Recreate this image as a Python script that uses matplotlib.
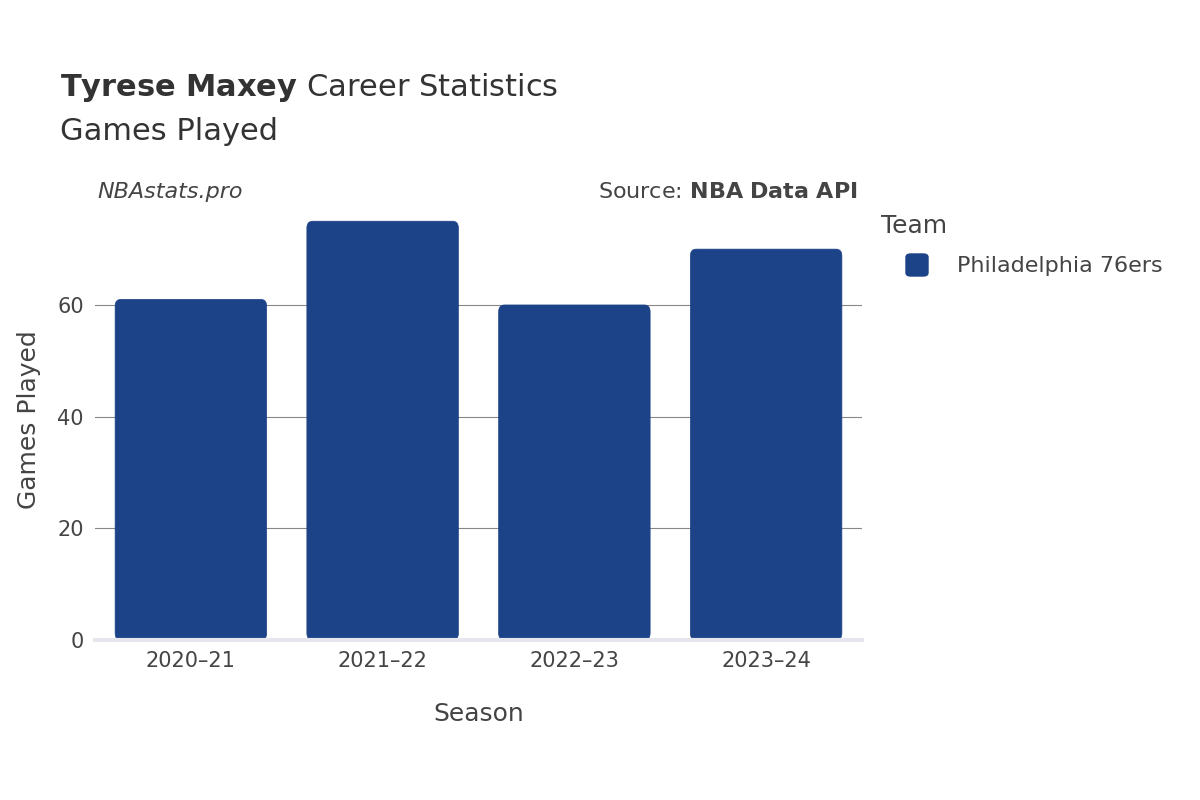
import matplotlib
matplotlib.use("Agg")
import matplotlib.pyplot as plt
from matplotlib.patches import FancyBboxPatch

seasons = ["2020–21", "2021–22", "2022–23", "2023–24"]
games = [61, 75, 60, 70]
team = "Philadelphia 76ers"
color = "#1c4287"

fig = plt.figure(figsize=(12, 8), dpi=100)
ax = fig.add_axes([95/1200, 160/800, 767/1200, 440/800])
x = list(range(len(seasons)))
bars = ax.bar(x, games, width=0.79, color=color, label=team)
for b in bars:
    b.set_visible(False)
    p = FancyBboxPatch((b.get_x(), 0), b.get_width(), b.get_height(),
                       boxstyle="round,pad=0,rounding_size=0.03",
                       mutation_aspect=40, facecolor=color, edgecolor=color, lw=0.5)
    ax.add_patch(p)
ax.set_xlim(-0.5, 3.5)
ax.set_ylim(0, 78.8)
ax.set_yticks([0, 20, 40, 60])
ax.set_xticks(x)
ax.set_xticklabels(seasons)
ax.grid(axis="y", color="#888888", lw=0.8)
ax.set_axisbelow(True)
for s in ["top", "right", "left"]:
    ax.spines[s].set_visible(False)
ax.spines["bottom"].set_color("#e6e6ee")
ax.spines["bottom"].set_linewidth(3)
ax.tick_params(length=0, labelsize=15, colors="#444444", pad=8)
ax.set_xlabel("Season", fontsize=18, color="#444444", labelpad=22)
ax.set_ylabel("Games Played", fontsize=18, color="#444444", labelpad=12)

fig.text(60/1200, 1-88/800, r"$\bf{Tyrese\ Maxey}$ Career Statistics", fontsize=22,
         color="#333333", va="center")
fig.text(60/1200, 1-132/800, "Games Played", fontsize=22, color="#333333", va="center")
fig.text(97/1200, 1-192/800, "NBAstats.pro", fontsize=16, style="italic", color="#444444", va="center")
fig.text(858/1200, 1-192/800, r"Source: $\bf{NBA\ Data\ API}$", fontsize=16, color="#444444",
         va="center", ha="right")
fig.text(881/1200, 1-226/800, "Team", fontsize=18, color="#444444", va="center")
fig.patches.append(FancyBboxPatch((906/1200, 1-276/800), 22/1200, 22/800,
                   boxstyle="round,pad=0,rounding_size=0.004", transform=fig.transFigure,
                   facecolor=color, edgecolor=color, figure=fig))
fig.text(957/1200, 1-266/800, team, fontsize=16, color="#444444", va="center")
fig.savefig("out.png")
